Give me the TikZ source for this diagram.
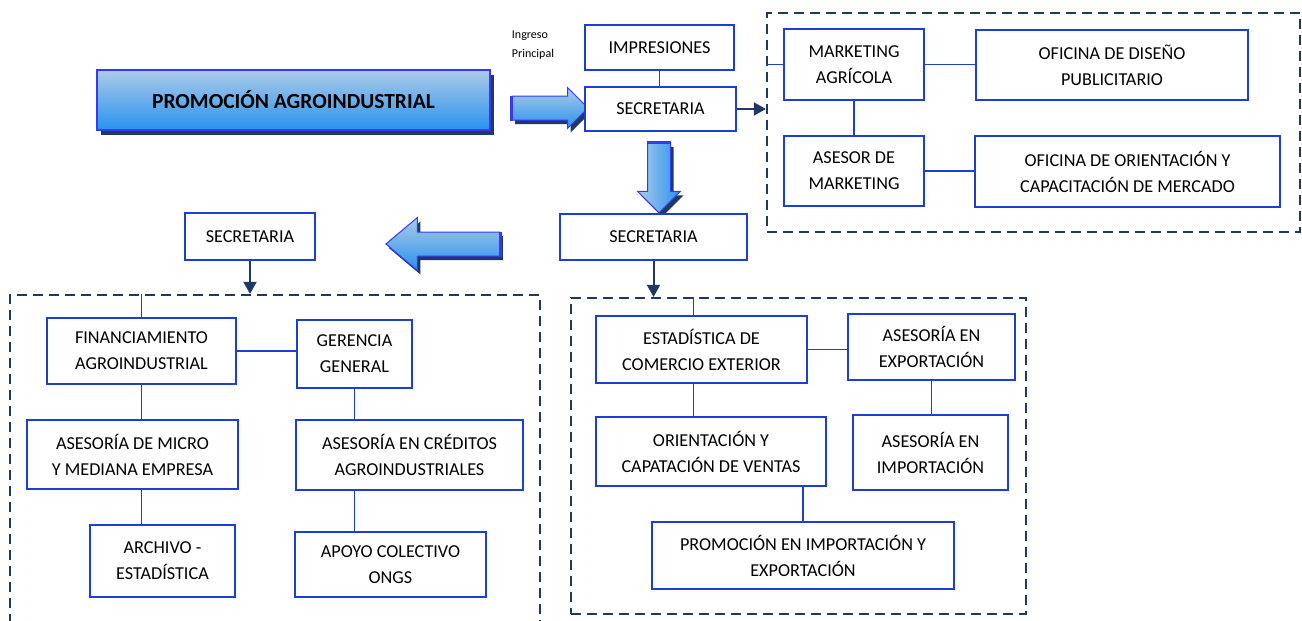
\documentclass[tikz,border=0pt]{standalone}
\usepackage{fontspec}
\setmainfont{Carlito}
\usetikzlibrary{shapes.arrows,shadows,arrows.meta}
\definecolor{boxblue}{RGB}{28,62,214}
\definecolor{navy}{RGB}{31,56,100}
\definecolor{brightblue}{RGB}{55,55,250}
\definecolor{lightblue}{RGB}{172,204,232}
\definecolor{midblue}{RGB}{40,145,238}

\begin{document}
\begin{tikzpicture}[x=1pt, y=-1pt,
  unit/.style={draw=boxblue, line width=1.8pt, fill=white, align=center, inner sep=2pt,
    font=\fontsize{18.2}{26}\selectfont},
  group/.style={draw=navy, line width=2.2pt, dash pattern=on 10pt off 6pt, inner sep=0pt},
  link/.style={draw=boxblue, line width=1.8pt},
  tip/.style={draw=navy, line width=2pt, -{Triangle[length=12pt,width=13pt]}},
  bigarrow/.style={single arrow, draw=brightblue, line width=1pt, inner xsep=0pt,
    drop shadow={shadow xshift=3pt, shadow yshift=-4pt, fill=navy, opacity=1}}]

\useasboundingbox (0,0) rectangle (1302,621);
\clip (0,0) rectangle (1302,621);

% dashed groups
\node[group, minimum width=533pt, minimum height=219pt] (topgrp) at (1033.5,122.5) {};
\node[group, minimum width=530pt, minimum height=365pt] (leftgrp) at (275,477.5) {};
\node[group, minimum width=455pt, minimum height=316pt] (rightgrp) at (798.5,456) {};

% title
\node[draw=brightblue, line width=1.5pt, top color=lightblue, bottom color=midblue,
  drop shadow={shadow xshift=4pt, shadow yshift=-5pt, fill=navy, opacity=1},
  minimum width=393pt, minimum height=60pt, font=\fontsize{21.5}{24}\selectfont\bfseries]
  (title) at (293.5,100) {PROMOCIÓN AGROINDUSTRIAL};

\node[align=left, inner sep=0pt, font=\fontsize{12}{19}\selectfont] (ingreso) at (533,45) {Ingreso\\Principal};

% block arrows
\node[bigarrow, minimum height=76pt, inner ysep=11.5pt, single arrow head extend=8.5pt,
  top color=lightblue, bottom color=midblue] (arrR) at (544,108) {};
\node[bigarrow, minimum height=70pt, inner ysep=11pt, single arrow head extend=10pt,
  rotate=-90, top color=lightblue, bottom color=midblue, shading angle=90] (arrD) at (659,172) {};
\node[bigarrow, minimum height=114pt, inner ysep=11.5pt, single arrow head extend=14.5pt,
  single arrow tip angle=80, shape border rotate=180, top color=lightblue, bottom color=midblue]
  (arrL) at (450,244) {};
\draw[brightblue, line width=3pt] (arrR.before tail) -- (arrR.after tail);
\draw[brightblue, line width=3pt] (arrD.before tail) -- (arrD.after tail);
\draw[brightblue, line width=3pt] (arrL.before tail) -- (arrL.after tail);

% top
\node[unit, minimum width=149pt, minimum height=45pt] (imp) at (659.5,47.5) {IMPRESIONES};
\node[unit, minimum width=151pt, minimum height=44pt] (sec1) at (660.5,109) {SECRETARIA};
\node[unit, minimum width=140pt, minimum height=71pt] (mkt) at (854,64.5) {MARKETING\\AGRÍCOLA};
\node[unit, minimum width=272pt, minimum height=70pt] (dis) at (1112,65) {OFICINA DE DISEÑO\\PUBLICITARIO};
\node[unit, minimum width=140pt, minimum height=70pt] (amk) at (854,171) {ASESOR DE\\MARKETING};
\node[unit, minimum width=305pt, minimum height=71pt] (ori) at (1127.5,171.5) {OFICINA DE ORIENTACIÓN Y\\CAPACITACIÓN DE MERCADO};

\node[unit, minimum width=187pt, minimum height=46pt] (sec2) at (653.5,237) {SECRETARIA};
\node[unit, minimum width=130pt, minimum height=47pt] (sec3) at (250,236.5) {SECRETARIA};

% left group
\node[unit, minimum width=189pt, minimum height=66pt] (fin) at (141.5,351) {FINANCIAMIENTO\\AGROINDUSTRIAL};
\node[unit, minimum width=115pt, minimum height=68pt] (ger) at (354.5,354) {GERENCIA\\GENERAL};
\node[unit, minimum width=211pt, minimum height=69pt] (micro) at (132.5,454.5) {ASESORÍA DE MICRO\\Y MEDIANA EMPRESA};
\node[unit, minimum width=227pt, minimum height=70pt] (cred) at (409.5,455) {ASESORÍA EN CRÉDITOS\\AGROINDUSTRIALES};
\node[unit, minimum width=145pt, minimum height=72pt] (arch) at (162.5,561) {ARCHIVO -\\ESTADÍSTICA};
\node[unit, minimum width=191pt, minimum height=65pt] (apoyo) at (390.5,564.5) {APOYO COLECTIVO\\ONGS};

% right group
\node[unit, minimum width=211pt, minimum height=67pt] (est) at (701.5,349.5) {ESTADÍSTICA DE\\COMERCIO EXTERIOR};
\node[unit, minimum width=167pt, minimum height=66pt] (exp) at (931.5,347) {ASESORÍA EN\\EXPORTACIÓN};
\node[unit, minimum width=230pt, minimum height=69pt] (vent) at (711,451.5) {ORIENTACIÓN Y\\CAPATACIÓN DE VENTAS};
\node[unit, minimum width=155pt, minimum height=75pt] (imp2) at (930.5,452.5) {ASESORÍA EN\\IMPORTACIÓN};
\node[unit, minimum width=302pt, minimum height=67pt] (prom) at (803,555.5) {PROMOCIÓN EN IMPORTACIÓN Y\\EXPORTACIÓN};

% connectors
\draw[link] (imp.south) -- (imp.south |- sec1.north);
\draw[tip] (sec1.east) -- (sec1.east -| topgrp.west);
\draw[link] (mkt.west) -- (mkt.west -| topgrp.west);
\draw[link] (mkt.east) -- (mkt.east -| dis.west);
\draw[link] (mkt.south) -- (amk.north);
\draw[link] (amk.east) -- (amk.east -| ori.west);

\draw[tip] (sec2.south) -- (sec2.south |- rightgrp.north);
\draw[tip] (sec3.south) -- (sec3.south |- leftgrp.north);

\draw[link] (fin.north |- leftgrp.north) -- (fin.north);
\draw[link] (fin.east) -- (fin.east -| ger.west);
\draw[link] (fin.south) -- (fin.south |- micro.north);
\draw[link] (fin.south |- micro.south) -- (fin.south |- arch.north);
\draw[link] (ger.south) -- (ger.south |- cred.north);
\draw[link] (ger.south |- cred.south) -- (ger.south |- apoyo.north);

\draw[link] ([xshift=-8pt]est.north |- rightgrp.north) -- ([xshift=-8pt]est.north);
\draw[link] ([xshift=-8pt]est.south) -- ([xshift=-8pt]est.south |- vent.north);
\draw[link] (est.east) -- (est.east -| exp.west);
\draw[link] (exp.south) -- (exp.south |- imp2.north);
\draw[link] (prom.north |- vent.south) -- (prom.north);

\end{tikzpicture}
\end{document}
